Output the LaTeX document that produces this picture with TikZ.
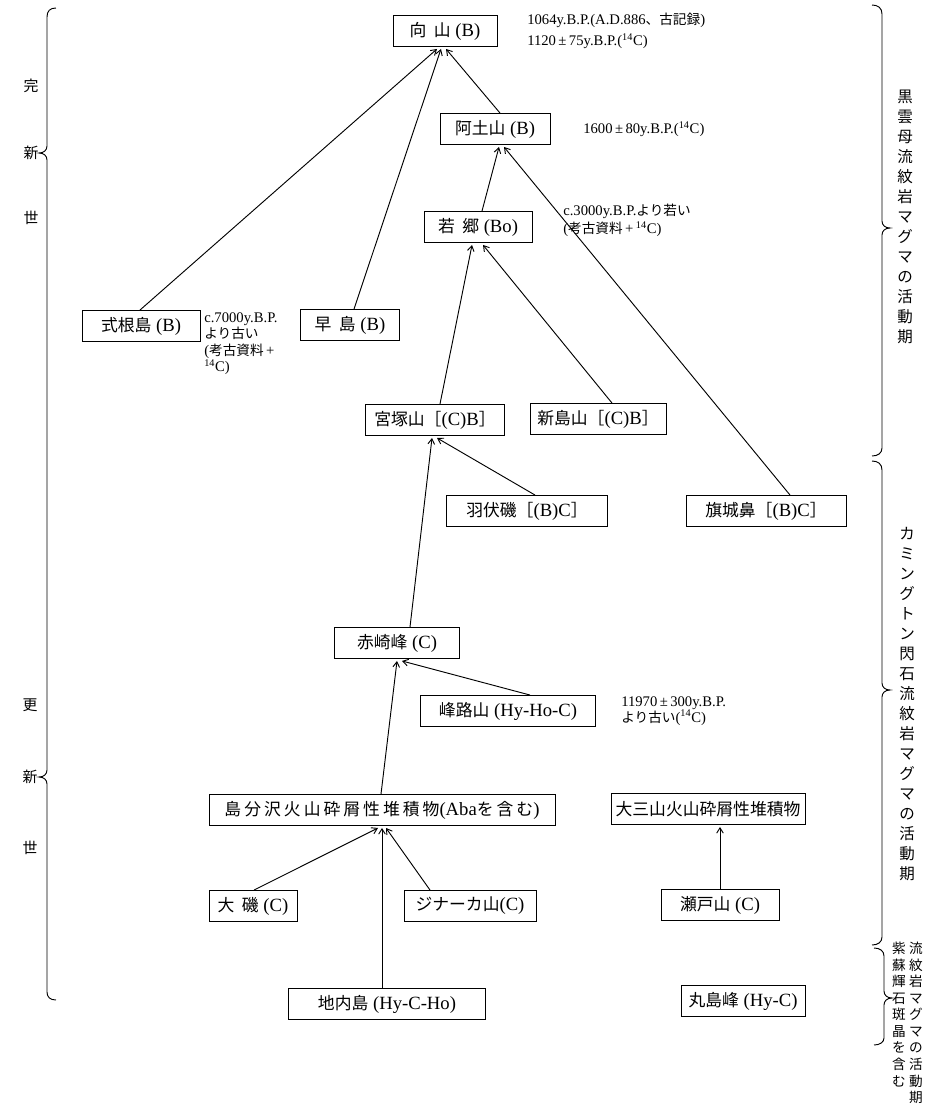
\documentclass[tikz,border=0pt]{standalone}
\usepackage{fontspec}
\setmainfont{Liberation Serif}
\newfontfamily\jp[Scale=0.93]{Noto Sans CJK JP}
\newfontfamily\jpb[Scale=0.9]{Noto Sans CJK JP}
\newfontfamily\jpwide[Scale=0.9,LetterSpace=18]{Noto Sans CJK JP}
\newcommand{\JP}[1]{{\jp #1}}
\newcommand{\JB}[1]{{\jpb #1}}
\newcommand{\gp}{\hspace{0.25em}}
\usetikzlibrary{arrows.meta,calc}
\begin{document}
\begin{tikzpicture}[x=0.75pt,y=-0.75pt,
  bx/.style={draw, line width=0.7pt, inner sep=1pt, minimum height=31*0.75pt, minimum width=#1*0.75pt, font=\fontsize{14}{16}\selectfont},
  arr/.style={-{Straight Barb[length=4pt,width=5pt]}, line width=0.7pt},
  note/.style={align=left, inner sep=0pt},
  brace/.style={line width=0.7pt},
  vlab/.style={align=center, inner sep=0pt, font=\jp\fontsize{12.5}{15}\selectfont},
  era/.style={inner sep=0pt, font=\jp\fontsize{12}{14}\selectfont}]
\useasboundingbox[fill=white] (0,0) rectangle (934,1111);

% boxes
\node[bx=104] (mukai) at (445,31) {\JB{向}\hspace{0.4em}\JB{山}\gp(B)};
\node[bx=110] (atsuchi) at (495,129) {\JB{阿土山}\gp(B)};
\node[bx=108] (wakago) at (478,227) {\JB{若}\hspace{0.4em}\JB{郷}\gp(Bo)};
\node[bx=118] (shikine) at (141,326) {\JB{式根島}\gp(B)};
\node[bx=99] (haya) at (350,325) {\JB{早}\hspace{0.4em}\JB{島}\gp(B)};
\node[bx=139] (miyatsuka) at (435,420) {\JB{宮塚山［}(C)B\JB{］}};
\node[bx=136] (niijima) at (598,419) {\JB{新島山［}(C)B\JB{］}};
\node[bx=161] (habushi) at (527,511) {\JB{羽伏磯［}(B)C\JB{］}};
\node[bx=160] (hatashiro) at (766,511) {\JB{旗城鼻［}(B)C\JB{］}};
\node[bx=125] (akasaki) at (397,643) {\JB{赤崎峰}\gp(C)};
\node[bx=175] (mineji) at (508,711) {\JB{峰路山}\gp(Hy-Ho-C)};
\node[bx=346] (shimawake) at (382,810) {{\jpwide 島分沢火山砕屑性堆積物}(Aba{\jpwide を含む})};
\node[bx=194] (daisan) at (708,809) {\JB{大三山火山砕屑性堆積物}};
\node[bx=88] (oiso) at (253,906) {\JB{大}\hspace{0.4em}\JB{磯}\gp(C)};
\node[bx=132] (jinaka) at (470,906) {\JB{ジナーカ山}(C)};
\node[bx=118] (seto) at (720,905) {\JB{瀬戸山}\gp(C)};
\node[bx=197] (jinai) at (387,1004) {\JB{地内島}\gp(Hy-C-Ho)};
\node[bx=124] (maru) at (743,1001) {\JB{丸島峰}\gp(Hy-C)};

% arrows
\draw[arr] ($(shikine.north)+(-1,0)$) -- ($(mukai.south)+(-8,2)$);
\draw[arr] ($(haya.north)+(4,0)$) -- ($(mukai.south)+(-4,2)$);
\draw[arr] ($(atsuchi.north)+(5,0)$) -- ($(mukai.south)+(1,2)$);
\draw[arr] ($(wakago.north)+(4,0)$) -- ($(atsuchi.south)+(4,2)$);
\draw[arr] ($(hatashiro.north)+(24,0)$) -- ($(atsuchi.south)+(9,2)$);
\draw[arr] ($(miyatsuka.north)+(5,0)$) -- ($(wakago.south)+(-6,2)$);
\draw[arr] ($(niijima.north)+(14,0)$) -- ($(wakago.south)+(5,2)$);
\draw[arr] ($(akasaki.north)+(13,0)$) -- ($(miyatsuka.south)+(-3,2)$);
\draw[arr] ($(habushi.north)+(8,0)$) -- ($(miyatsuka.south)+(2,2)$);
\draw[arr] ($(shimawake.north)+(-1,0)$) -- ($(akasaki.south)+(0,2)$);
\draw[arr] ($(mineji.north)+(22,0)$) -- ($(akasaki.south)+(5,2)$);
\draw[arr] ($(oiso.north)+(1,0)$) -- ($(shimawake.south)+(-4,2)$);
\draw[arr] ($(jinai.north)+(-5,0)$) -- ($(shimawake.south)+(0,2)$);
\draw[arr] ($(jinaka.north)+(-40,0)$) -- ($(shimawake.south)+(4,2)$);
\draw[arr] (seto.north) -- ($(daisan.south)+(12,2)$);

% annotations
\node[note, anchor=north west, font=\fontsize{11}{15.75}\selectfont] (n1) at (527,13)
  {1064y.B.P.(A.D.886\JP{、古記録})\\1120\,±\,75y.B.P.(\textsuperscript{14}C)};
\node[note, anchor=west, font=\fontsize{11}{13}\selectfont] (n2) at (583,129)
  {1600\,±\,80y.B.P.(\textsuperscript{14}C)};
\node[note, anchor=north west, font=\fontsize{11}{13.5}\selectfont] (n3) at (563,204)
  {c.3000y.B.P.\JP{より若い}\\(\JP{考古資料}\,+\,\textsuperscript{14}C)};
\node[note, anchor=north west, font=\fontsize{11}{12.4}\selectfont] (n4) at (204,312)
  {c.7000y.B.P.\\\JP{より古い}\\(\JP{考古資料}\,+\\\textsuperscript{14}C)};
\node[note, anchor=north west, font=\fontsize{11}{12}\selectfont] (n5) at (621,696)
  {11970\,±\,300y.B.P.\\\JP{より古い}(\textsuperscript{14}C)};

% left braces and era labels
\draw[brace] (56,8) .. controls (50,8) and (47,11) .. (47,17) -- (47,146)
  .. controls (47,150) and (44,153) .. (39,153) .. controls (44,153) and (47,156) .. (47,160)
  -- (47,770) .. controls (47,774) and (44,777) .. (39,777) .. controls (44,777) and (47,780) .. (47,784)
  -- (47,992) .. controls (47,997) and (50,1000) .. (56,1000);
\node[era] (e1) at (31,86) {完};
\node[era] (e2) at (31,153) {新};
\node[era] (e3) at (31,218) {世};
\node[era] (e4) at (30,705) {更};
\node[era] (e5) at (30,777) {新};
\node[era] (e6) at (30,848) {世};

% right braces and labels
\draw[brace] (872,5) .. controls (878,5) and (882,8) .. (882,14) -- (882,221)
  .. controls (882,225) and (885,228) .. (890,228) .. controls (885,228) and (882,231) .. (882,235)
  -- (882,448) .. controls (882,453) and (878,456) .. (872,456);
\draw[brace] (872,461) .. controls (878,461) and (882,464) .. (882,470) -- (882,683)
  .. controls (882,687) and (885,690) .. (890,690) .. controls (885,690) and (882,693) .. (882,697)
  -- (882,937) .. controls (882,942) and (878,945) .. (872,945);
\draw[brace] (874,948) .. controls (880,948) and (884,951) .. (884,956) -- (884,991)
  .. controls (884,995) and (887,998) .. (892,998) .. controls (887,998) and (884,1001) .. (884,1005)
  -- (884,1038) .. controls (884,1042) and (880,1045) .. (874,1045);

\node[vlab, anchor=north] (v1) at (905,90)
  {黒\\雲\\母\\流\\紋\\岩\\マ\\グ\\マ\\の\\活\\動\\期};
\node[vlab, anchor=north] (v2) at (907,527)
  {カ\\ミ\\ン\\グ\\ト\\ン\\閃\\石\\流\\紋\\岩\\マ\\グ\\マ\\の\\活\\動\\期};
\node[vlab, anchor=north, font=\jp\fontsize{11}{12.4}\selectfont] (v3r) at (916,942)
  {流\\紋\\岩\\マ\\グ\\マ\\の\\活\\動\\期};
\node[vlab, anchor=north, font=\jp\fontsize{11}{12.4}\selectfont] (v3l) at (899,942)
  {紫\\蘇\\輝\\石\\斑\\晶\\を\\含\\む};
\end{tikzpicture}
\end{document}
